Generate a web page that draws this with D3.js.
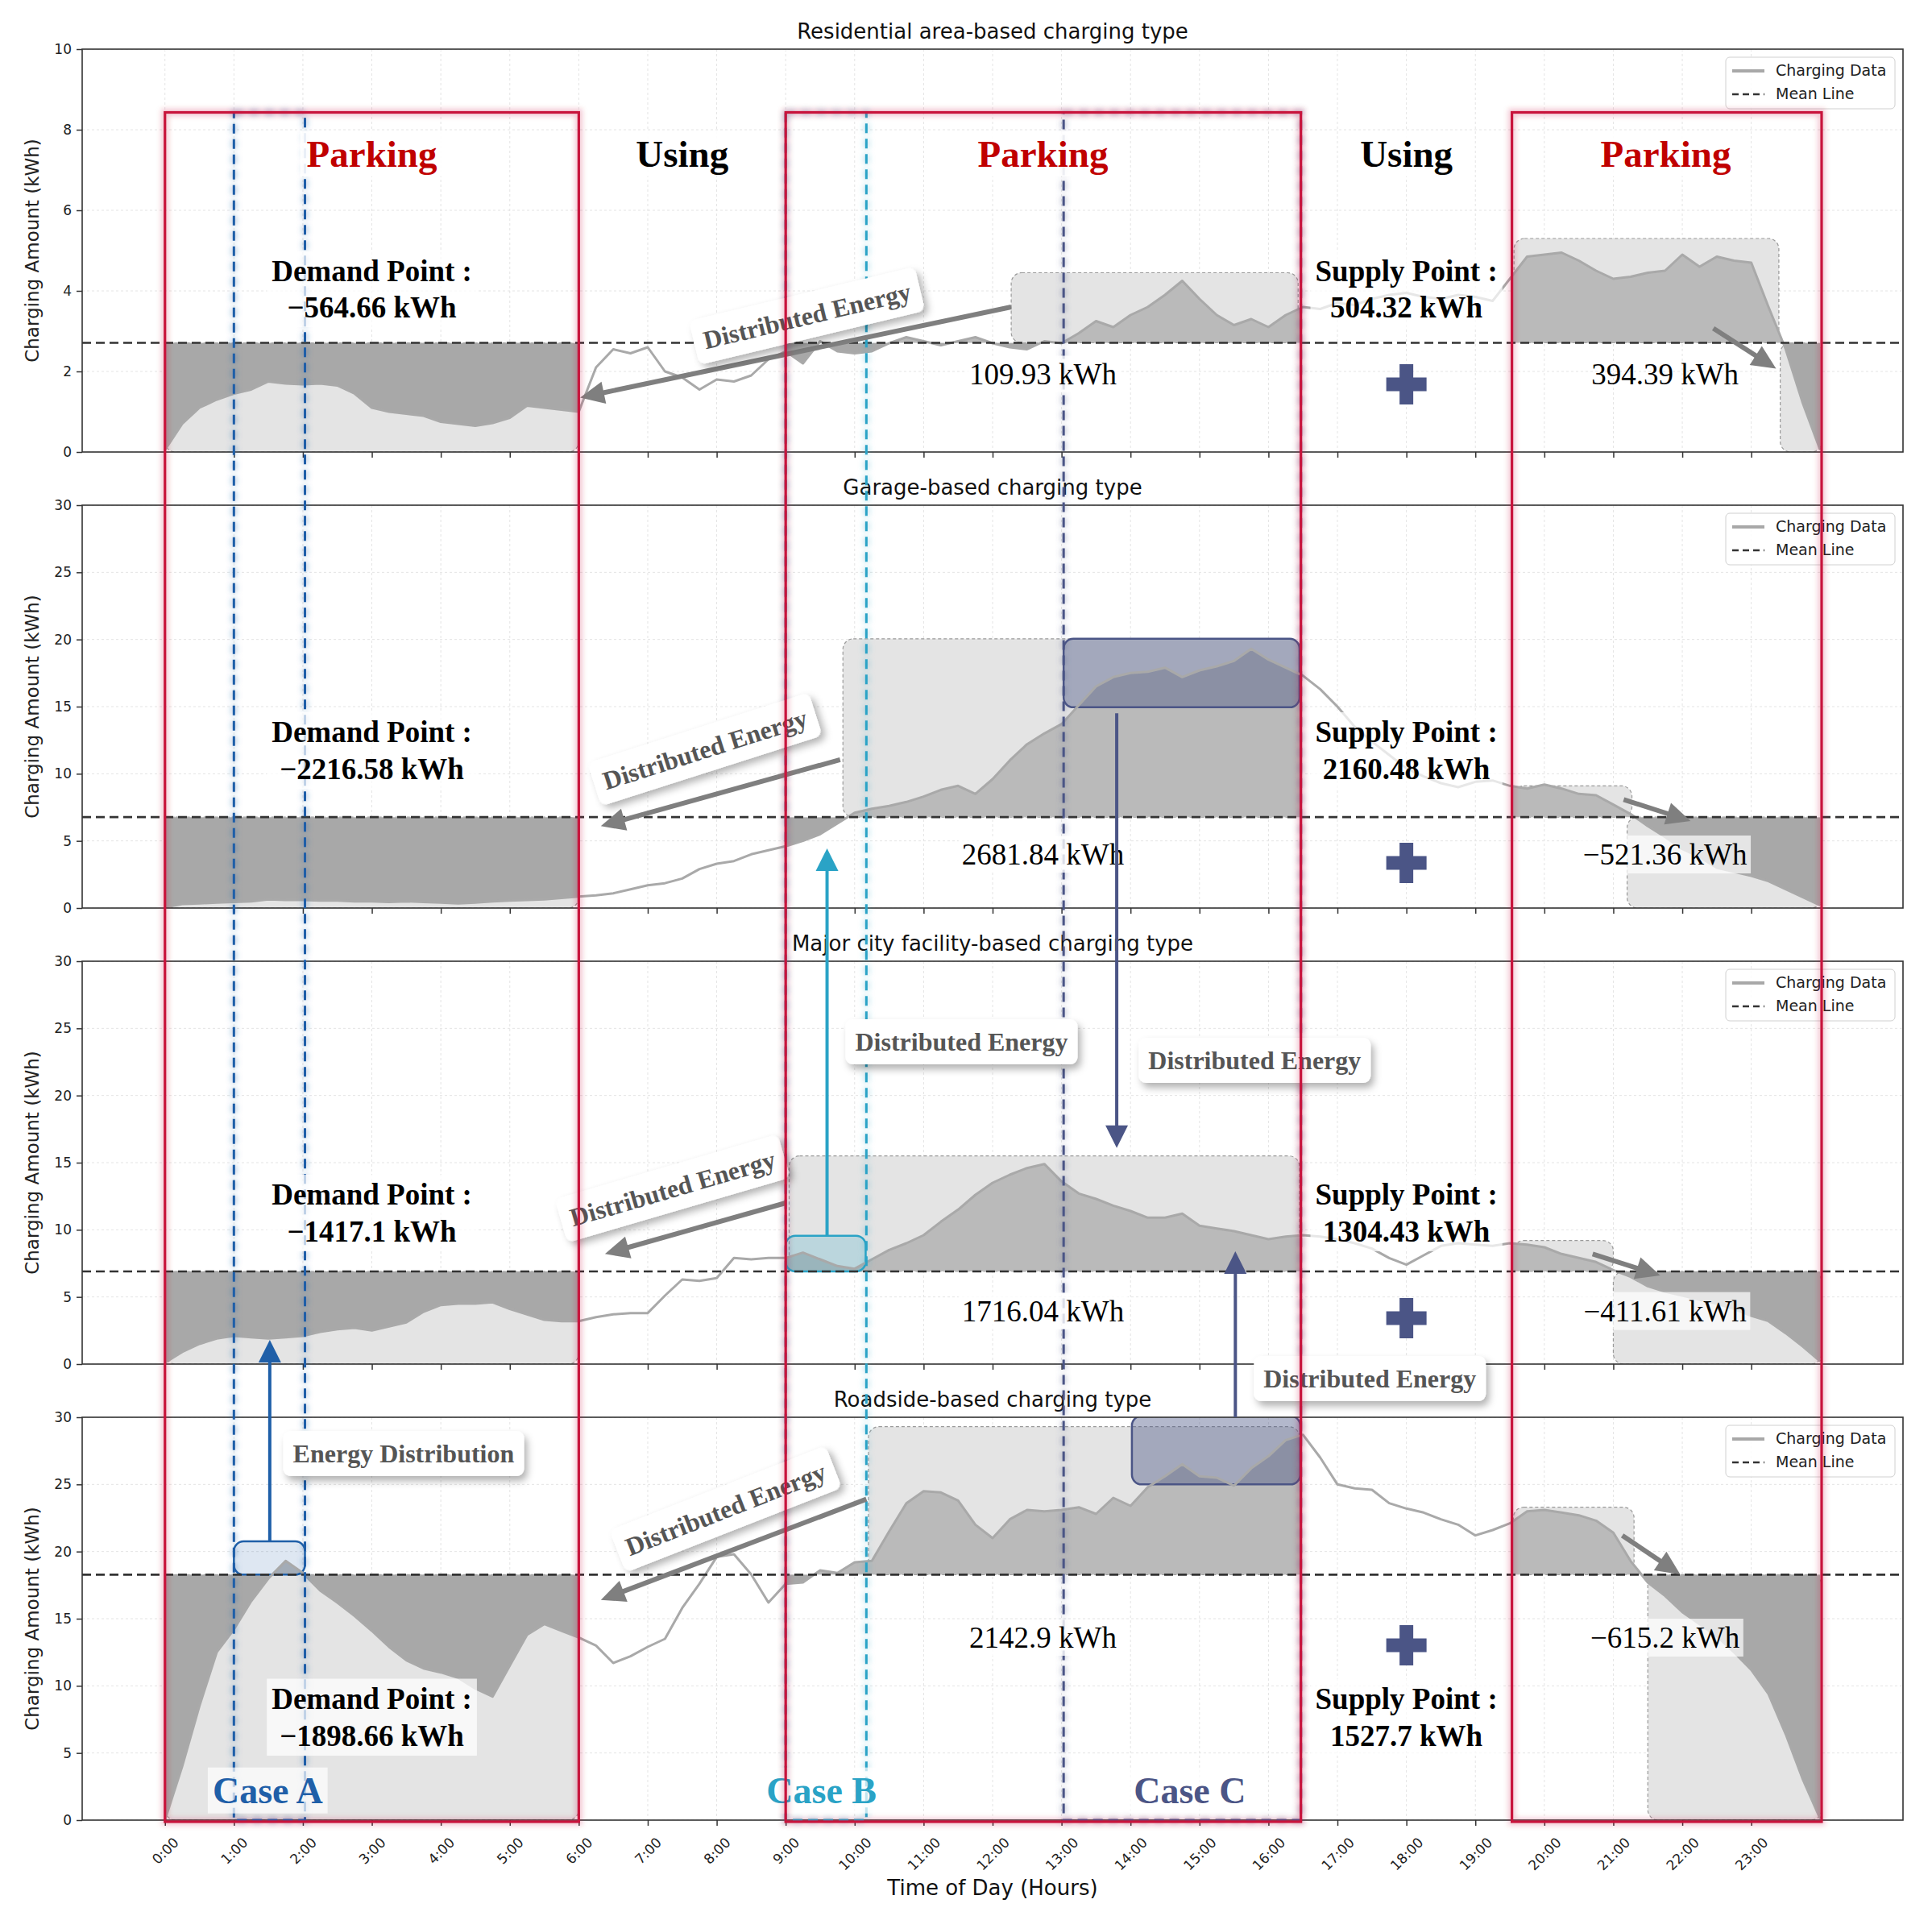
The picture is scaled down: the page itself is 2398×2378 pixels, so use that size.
<!DOCTYPE html>
<html><head><meta charset="utf-8">
<script src="https://cdn.jsdelivr.net/npm/d3@7"></script>
<style>body{margin:0;background:#fff}</style>
</head><body>
<svg id="chart" width="2398" height="2378"></svg>
<script>
// ---------------- DATA ----------------
const panelTitles = ["Residential area-based charging type","Garage-based charging type","Major city facility-based charging type","Roadside-based charging type"];
const timeLabels = ["0:00","1:00","2:00","3:00","4:00","5:00","6:00","7:00","8:00","9:00","10:00","11:00","12:00","13:00","14:00","15:00","16:00","17:00","18:00","19:00","20:00","21:00","22:00","23:00"];
const yMaxes = [10,30,30,30];
const yTickSets = [[0,2,4,6,8,10],[0,5,10,15,20,25,30],[0,5,10,15,20,25,30],[0,5,10,15,20,25,30]];
const legendLabels = ["Charging Data","Mean Line"];
// values every 15 minutes, 0:00 .. 24:00
const residential = [
 0.05,0.7,1.1,1.3, 1.45,1.55,1.75,1.7, 1.68,1.7,1.65,1.45, 1.1,1.0,0.95,0.9, 0.75,0.7,0.65,0.72, 0.85,1.15,1.1,1.05,
 1.0,2.1,2.55,2.45, 2.6,2.0,1.85,1.55, 1.8,1.75,1.9,2.3, 2.5,2.2,2.75,2.5, 2.45,2.5,2.7,2.85, 2.75,2.65,2.75,2.85,
 2.7,2.6,2.55,2.75, 2.7,2.95,3.25,3.1, 3.4,3.6,3.9,4.25, 3.8,3.4,3.15,3.3, 3.1,3.4,3.6,3.55, 3.7,3.65,3.8,3.9,
 3.95,3.85,3.8,3.9, 3.85,3.75,4.3,4.85, 4.9,4.95,4.75,4.5, 4.3,4.35,4.45,4.5, 4.9,4.6,4.85,4.75, 4.7,3.6,2.55,1.2, 0.05];
const garage = [
 0.05,0.3,0.35,0.4, 0.45,0.5,0.65,0.6, 0.6,0.55,0.55,0.5, 0.5,0.45,0.5,0.45, 0.4,0.35,0.4,0.5, 0.55,0.6,0.65,0.75,
 0.85,0.95,1.1,1.4, 1.7,1.85,2.2,2.9, 3.3,3.5,4.0,4.3, 4.6,5.0,5.5,6.3, 7.1,7.4,7.6,7.9, 8.3,8.8,9.1,8.5,
 9.6,11.0,12.2,13.0, 13.7,15.1,16.5,17.2, 17.5,17.6,17.9,17.2, 17.7,18.0,18.4,19.3, 18.5,17.9,17.3,16.3, 15.0,13.5,12.4,11.4,
 10.4,9.8,9.3,9.0, 9.4,9.5,9.1,8.9, 9.2,8.9,8.5,8.4, 7.7,7.0,6.1,5.3, 4.4,3.8,3.0,2.7, 2.4,2.0,1.4,0.8, 0.2];
const cityFacility = [
 0.1,0.9,1.5,1.9, 2.1,2.0,1.9,2.0, 2.1,2.4,2.6,2.7, 2.5,2.8,3.1,3.9, 4.4,4.5,4.5,4.6, 4.1,3.7,3.3,3.2,
 3.2,3.5,3.7,3.8, 3.8,5.1,6.3,6.2, 6.4,7.9,7.8,7.9, 7.9,8.3,7.8,7.3, 7.1,7.8,8.5,9.0, 9.6,10.6,11.5,12.6,
 13.5,14.1,14.6,14.9, 13.6,12.7,12.3,11.8, 11.4,10.9,10.9,11.2, 10.3,10.1,9.9,9.6, 9.3,9.5,9.6,9.5, 9.3,9.0,8.6,7.9,
 7.4,8.1,8.8,9.0, 8.9,8.8,9.0,8.9, 8.7,8.2,7.9,7.6, 7.0,6.5,5.8,5.4, 5.1,4.8,4.5,4.1, 3.6,3.2,2.3,1.3, 0.2];
const roadside = [
 0.0,4.0,8.5,12.5, 14.2,16.3,18.0,19.3, 18.4,17.1,16.2,15.2, 14.1,12.9,11.9,11.3, 11.0,10.6,9.8,9.2, 11.5,13.8,14.6,14.1,
 13.6,13.0,11.7,12.2, 12.9,13.5,15.8,17.6, 19.6,19.8,18.3,16.2, 17.6,17.7,18.6,18.4, 19.2,19.3,21.5,23.6, 24.5,24.4,23.8,22.0,
 21.0,22.4,23.1,23.0, 23.1,23.3,22.8,24.0, 23.4,24.8,25.6,26.5, 25.6,25.5,24.9,26.2, 27.1,28.3,28.7,27.0, 25.0,24.7,24.6,23.6,
 23.2,22.9,22.4,22.0, 21.2,21.6,22.1,23.0, 23.1,22.9,22.7,22.3, 21.4,19.3,17.7,16.7, 15.5,14.6,13.7,12.5, 11.2,9.4,6.4,3.0, 0.1];
const meanValues = [2.71, 6.77, 6.9, 18.28];
const demandValues = ["\u2212564.66 kWh","\u22122216.58 kWh","\u22121417.1 kWh","\u22121898.66 kWh"];
const supplyValues = ["504.32 kWh","2160.48 kWh","1304.43 kWh","1527.7 kWh"];
const parkingEnergy = ["109.93 kWh","2681.84 kWh","1716.04 kWh","2142.9 kWh"];
const eveningEnergy = ["394.39 kWh","\u2212521.36 kWh","\u2212411.61 kWh","\u2212615.2 kWh"];
const zoneLabels = ["Parking","Using","Parking","Using","Parking"];
const caseLabels = ["Case A","Case B","Case C"];
const parkingZones = [[0,6],[9,16.47],[19.53,24.02]];
const caseSpans = [[1.0,2.03],[9.0,10.17],[13.03,16.47]];

// ---------------- LAYOUT ----------------
const W=2398,H=2378, axLeft=102, axRight=2362, panelH=500;
const panelTops=[61,627,1193,1759];
const x = d3.scaleLinear().domain([-1.2,25.2]).range([axLeft,axRight]);
const times = d3.range(97).map(i=>i/4);
const seriesList=[residential,garage,cityFacility,roadside];
const SANS="DejaVu Sans", SERIF="Liberation Serif";
const colCaseA="#1f5fa8", colCaseB="#2aa3c6", colCaseC="#4b5586", colRed="#c8143c", colArrow="#7f7f7f";

const svg=d3.select('#chart');
svg.append('rect').attr('width',W).attr('height',H).attr('fill','#fff');
const defs=svg.append('defs');
const sh=defs.append('filter').attr('id','shadow').attr('x','-30%').attr('y','-60%').attr('width','170%').attr('height','260%');
sh.append('feDropShadow').attr('dx',4).attr('dy',6).attr('stdDeviation',5).attr('flood-color','#000').attr('flood-opacity',0.3);
const gl=defs.append('filter').attr('id','glow').attr('x','-50%').attr('y','-5%').attr('width','200%').attr('height','110%');
gl.append('feGaussianBlur').attr('stdDeviation',3);

const yScales=[];
// light boxes: [x0,x1,y0,y1] ('m' = mean)
const lightBoxes=[
 [[0,6,0,'m'],[12.27,16.43,'m',4.45],[19.56,23.4,'m',5.3],[23.42,24.02,0,'m']],
 [[0,6,0,'m'],[9.83,16.45,'m',20.05],[19.55,21.27,'m',9.1],[21.2,24.02,0,'m']],
 [[0,6,0,'m'],[9.05,16.45,'m',15.5],[19.55,21.0,'m',9.2],[21.0,24.02,0,'m']],
 [[0,6,0,'m'],[10.2,16.45,'m',29.3],[19.55,21.3,'m',23.3],[21.5,24.02,0,'m']]];
const caseBoxes=[
 [],
 [[13.03,16.45,14.95,20.05,colCaseC,0.42]],
 [[9.0,10.16,'m',9.56,colCaseB,0.22]],
 [[1.0,2.03,'m',20.76,colCaseA,0.15],[14.02,16.46,25.0,30.1,colCaseC,0.42]]];

panelTops.forEach((top,p)=>{
  const ys=d3.scaleLinear().domain([0,yMaxes[p]]).range([top+panelH,top]);
  yScales.push(ys);
  const m=meanValues[p];
  const val=v=>v==='m'?m:v;
  const g=svg.append('g');
  const cid='ax'+p;
  defs.append('clipPath').attr('id',cid).append('rect').attr('x',axLeft).attr('y',top).attr('width',axRight-axLeft).attr('height',panelH);
  const inner=g.append('g').attr('clip-path',`url(#${cid})`);
  // grid
  inner.selectAll('.gx').data(d3.range(24)).join('line').attr('x1',d=>x(d)).attr('x2',d=>x(d)).attr('y1',top).attr('y2',top+panelH)
    .attr('stroke','#e4e4e4').attr('stroke-width',1).attr('stroke-dasharray','3,3');
  inner.selectAll('.gy').data(yTickSets[p]).join('line').attr('x1',axLeft).attr('x2',axRight).attr('y1',d=>ys(d)).attr('y2',d=>ys(d))
    .attr('stroke','#e4e4e4').attr('stroke-width',1).attr('stroke-dasharray','3,3');
  // light boxes
  lightBoxes[p].forEach(b=>{
    const y0=ys(val(b[2])), y1=ys(val(b[3]));
    inner.append('rect').attr('x',x(b[0])).attr('width',x(b[1])-x(b[0])).attr('y',Math.min(y0,y1)).attr('height',Math.abs(y0-y1))
      .attr('rx',13).attr('fill','#e4e4e4').attr('stroke','#9a9a9a').attr('stroke-width',1.2).attr('stroke-dasharray','4,3');
  });
  // fills between series and mean in parking zones
  const area=d3.area().x((d,i)=>x(times[i])).y0(ys(m)).y1(d=>ys(d));
  parkingZones.forEach((z,zi)=>{
    ['above','below'].forEach(side=>{
      const id=`cl${p}_${zi}_${side}`;
      const yt= side==='above'? top : ys(m);
      const yb= side==='above'? ys(m) : top+panelH;
      defs.append('clipPath').attr('id',id).append('rect').attr('x',x(z[0])).attr('width',x(z[1])-x(z[0])).attr('y',yt).attr('height',yb-yt);
      inner.append('g').attr('clip-path',`url(#${id})`).append('path').datum(seriesList[p]).attr('d',area)
        .attr('fill',side==='above'?'#bababa':'#a8a8a8');
    });
  });
  // case boxes
  caseBoxes[p].forEach(b=>{
    const y0=ys(val(b[2])), y1=ys(val(b[3]));
    inner.append('rect').attr('x',x(b[0])).attr('width',x(b[1])-x(b[0])).attr('y',Math.min(y0,y1)).attr('height',Math.abs(y0-y1))
      .attr('rx',12).attr('fill',b[4]).attr('fill-opacity',b[5]).attr('stroke',b[4]).attr('stroke-width',2.5);
  });
  // series line
  inner.append('path').datum(seriesList[p]).attr('d',d3.line().x((d,i)=>x(times[i])).y(d=>ys(d)))
    .attr('fill','none').attr('stroke','#a9a9a9').attr('stroke-width',3).attr('stroke-linejoin','round');
  // mean line
  inner.append('line').attr('x1',axLeft).attr('x2',axRight).attr('y1',ys(m)).attr('y2',ys(m))
    .attr('stroke','#333').attr('stroke-width',2.6).attr('stroke-dasharray','11,6');
  // axes
  const ya=g.append('g').attr('transform',`translate(${axLeft},0)`).call(d3.axisLeft(ys).tickValues(yTickSets[p]).tickSize(7).tickPadding(6).tickFormat(d3.format('d')));
  ya.select('.domain').remove();
  ya.selectAll('line').attr('stroke','#333').attr('stroke-width',1.5);
  ya.selectAll('text').attr('font-family',SANS).attr('font-size',17).attr('fill','#222');
  const xa=g.append('g').attr('transform',`translate(0,${top+panelH})`).call(d3.axisBottom(x).tickValues(d3.range(24)).tickSize(7).tickFormat(d=>p===3?timeLabels[d]:''));
  xa.select('.domain').remove();
  xa.selectAll('line').attr('stroke','#333').attr('stroke-width',1.5);
  if(p===3){
    xa.selectAll('text').attr('font-family',SANS).attr('font-size',17).attr('fill','#222').attr('dy',null).attr('y',0)
      .attr('text-anchor','middle').attr('dominant-baseline','central')
      .each(function(){const w=this.getComputedTextLength(); d3.select(this).attr('transform',`translate(0,${20+(w+13)*0.3536}) rotate(-45)`);});
  }
  g.append('rect').attr('x',axLeft).attr('y',top).attr('width',axRight-axLeft).attr('height',panelH).attr('fill','none').attr('stroke','#333').attr('stroke-width',1.6);
  // title
  g.append('text').attr('x',(axLeft+axRight)/2).attr('y',top-13).attr('text-anchor','middle').attr('font-family',SANS).attr('font-size',26).attr('fill','#111').text(panelTitles[p]);
  // y label
  g.append('text').attr('transform',`translate(40,${top+panelH/2}) rotate(-90)`).attr('text-anchor','middle').attr('dominant-baseline','central')
    .attr('font-family',SANS).attr('font-size',23).attr('fill','#222').text('Charging Amount (kWh)');
  // legend
  const lg=g.append('g');
  lg.append('rect').attr('x',2142).attr('y',top+10).attr('width',210).attr('height',64).attr('rx',5).attr('fill','#fff').attr('fill-opacity',0.85).attr('stroke','#d0d0d0');
  lg.append('line').attr('x1',2150).attr('x2',2190).attr('y1',top+27).attr('y2',top+27).attr('stroke','#a8a8a8').attr('stroke-width',4);
  lg.append('line').attr('x1',2150).attr('x2',2190).attr('y1',top+56).attr('y2',top+56).attr('stroke','#333').attr('stroke-width',2.6).attr('stroke-dasharray','8,5');
  lg.selectAll('text').data(legendLabels).join('text').attr('x',2204).attr('y',(d,i)=>top+33+i*29).attr('font-family',SANS).attr('font-size',19).attr('fill','#222').text(d=>d);
});

svg.append('text').attr('x',(axLeft+axRight)/2).attr('y',2352).attr('text-anchor','middle').attr('font-family',SANS).attr('font-size',26).attr('fill','#111').text('Time of Day (Hours)');

// ---------------- CASE DASHED RECTS ----------------
const rectTop=yScales[0](8.43), rectBot=yScales[3](0);
const caseCols=[colCaseA,colCaseB,colCaseC];
caseSpans.forEach((c,i)=>{
  [[8,0.25,'url(#glow)'],[3,1,null]].forEach(s=>{
    svg.append('rect').attr('x',x(c[0])).attr('y',rectTop).attr('width',x(c[1])-x(c[0])).attr('height',rectBot-rectTop)
      .attr('fill','none').attr('stroke',caseCols[i]).attr('stroke-width',s[0]).attr('stroke-opacity',s[1]).attr('stroke-dasharray','12,7').attr('filter',s[2]);
  });
});

// ---------------- TEXT HELPERS ----------------
function boxedText(parent,cx,ys,lines,o){
  const g=parent.append('g');
  g.selectAll('text').data(lines).join('text').attr('x',cx).attr('y',(d,i)=>ys[i]).attr('text-anchor','middle')
    .attr('font-family',o.family||SERIF).attr('font-size',o.size).attr('font-weight',o.weight||'normal').attr('fill',o.color||'#000').text(d=>d);
  if(o.box){
    const bb=g.node().getBBox(), px=o.padX||6, py=o.padY||4;
    g.insert('rect','text').attr('x',bb.x-px).attr('y',bb.y-py).attr('width',bb.width+2*px).attr('height',bb.height+2*py)
      .attr('rx',o.rx||0).attr('fill','#fff').attr('fill-opacity',o.opacity==null?1:o.opacity).attr('filter',o.shadow?'url(#shadow)':null);
  }
  return g;
}
const ann=svg.append('g');
// zone labels
const zoneHours=[3.0,7.5,12.73,18.0,21.76];
zoneLabels.forEach((t,i)=>boxedText(ann,x(zoneHours[i]),[yScales[0](7.08)],[t],{size:47,weight:'bold',color:t==='Parking'?'#c00000':'#000',box:true,opacity:0.9,padX:8,padY:2}));
// demand / supply
const dsBase=[[4.24,3.34],[12.36,9.6],[11.88,9.12],[8.31,5.52]];
const valBase=[1.69,3.24,3.2,12.84];
const plusC=[1.68,3.36,3.42,13.02];
panelTops.forEach((top,p)=>{
  const ys=yScales[p];
  const b=dsBase[p].map(v=>ys(v));
  boxedText(ann,x(3.0),b,["Demand Point :",demandValues[p]],{size:37,weight:'bold',box:true,opacity:0.72,padX:6,padY:4});
  boxedText(ann,x(18.0),b,["Supply Point :",supplyValues[p]],{size:37,weight:'bold',box:true,opacity:0.72,padX:6,padY:4});
  boxedText(ann,x(12.73),[ys(valBase[p])],[parkingEnergy[p]],{size:37,box:true,opacity:0.8,padX:4,padY:2});
  boxedText(ann,x(21.75),[ys(valBase[p])],[eveningEnergy[p]],{size:37,box:true,opacity:p===0?0:0.7,padX:4,padY:3});
  // plus marker
  const cx=x(18), cy=ys(plusC[p]), a=25, t=8.5;
  ann.append('path').attr('d',`M${cx-t},${cy-a}h${2*t}v${a-t}h${a-t}v${2*t}h${-(a-t)}v${a-t}h${-2*t}v${-(a-t)}h${-(a-t)}v${-2*t}h${a-t}Z`).attr('fill',colCaseC);
});
// case labels
const caseHours=[1.49,9.52,14.86];
caseLabels.forEach((t,i)=>boxedText(ann,x(caseHours[i]),[yScales[3](1.28)],[t],{size:46,weight:'bold',color:caseCols[i],box:true,opacity:0.7,padX:6,padY:3}));

// ---------------- ARROWS ----------------
function arrow(parent,x1,y1,x2,y2,color,shaft,headL,headW){
  const dx=x2-x1, dy=y2-y1, L=Math.hypot(dx,dy), ux=dx/L, uy=dy/L;
  const bx=x2-ux*headL, by=y2-uy*headL, px=-uy, py=ux;
  parent.append('line').attr('x1',x1).attr('y1',y1).attr('x2',bx+ux*3).attr('y2',by+uy*3).attr('stroke',color).attr('stroke-width',shaft);
  parent.append('path').attr('d',`M${x2},${y2}L${bx+px*headW/2},${by+py*headW/2}L${bx-px*headW/2},${by-py*headW/2}Z`).attr('fill',color);
}
const panelArrows=[
 [[[12.27,3.6],[6.02,1.35]],[[22.45,3.07],[23.36,2.07]]],
 [[[9.79,11.05],[6.32,6.1]],[[21.15,8.08],[22.12,6.48]]],
 [[[9.0,12.0],[6.38,8.2]],[[20.7,8.2],[21.68,6.6]]],
 [[[10.17,23.9],[6.32,16.4]],[[21.13,21.2],[21.97,18.3]]]];
const arr=svg.append('g');
panelArrows.forEach((list,p)=>list.forEach(a=>arrow(arr,x(a[0][0]),yScales[p](a[0][1]),x(a[1][0]),yScales[p](a[1][1]),colArrow,6,30,28)));
// cross-panel arrows: [hour, fromPanel, fromValue, toPanel, toValue, color]
const crossArrows=[[13.8,1,14.5,2,16.1,colCaseC],[15.52,3,30,2,8.4,colCaseC],[9.6,2,9.56,1,4.44,colCaseB],[1.52,3,20.76,2,1.8,colCaseA]];
crossArrows.forEach(c=>arrow(arr,x(c[0]),yScales[c[1]](c[2]),x(c[0]),yScales[c[3]](c[4]),c[5],4,28,28));

// ---------------- DISTRIBUTED ENERGY LABELS ----------------
function labelBox(cx,cy,angle,text){
  const g=svg.append('g').attr('transform',`translate(${cx},${cy}) rotate(${angle})`);
  const t=g.append('text').attr('x',0).attr('y',0).attr('text-anchor','middle').attr('dominant-baseline','central')
    .attr('font-family',SERIF).attr('font-size',32).attr('font-weight','bold').attr('fill','#555').text(text);
  const bb=t.node().getBBox();
  g.insert('rect','text').attr('x',bb.x-12).attr('y',bb.y-10).attr('width',bb.width+24).attr('height',bb.height+20).attr('rx',9)
    .attr('fill','#fff').attr('filter','url(#shadow)');
}
const rotLabels=[[0,9.31,3.38,-13.5],[1,7.83,11.82,-17.7],[2,7.36,13.08,-16.3],[3,8.13,23.16,-21.4]];
rotLabels.forEach(r=>labelBox(x(r[1]),yScales[r[0]](r[2]),r[3],"Distributed Energy"));
const flatLabels=[[2,11.55,24.0,"Distributed Energy"],[2,15.8,22.62,"Distributed Energy"],[3,17.47,32.88,"Distributed Energy"],[3,3.46,27.3,"Energy Distribution"]];
flatLabels.forEach(r=>labelBox(x(r[1]),yScales[r[0]](r[2]),0,r[3]));

// ---------------- RED PARKING RECTS ----------------
parkingZones.forEach(z=>{
  [[9,0.22,'url(#glow)'],[3.2,1,null]].forEach(s=>{
    svg.append('rect').attr('x',x(z[0])).attr('y',rectTop).attr('width',x(z[1])-x(z[0])).attr('height',rectBot-rectTop+2)
      .attr('fill','none').attr('stroke',colRed).attr('stroke-width',s[0]).attr('stroke-opacity',s[1]).attr('filter',s[2]);
  });
});
</script>
</body></html>
